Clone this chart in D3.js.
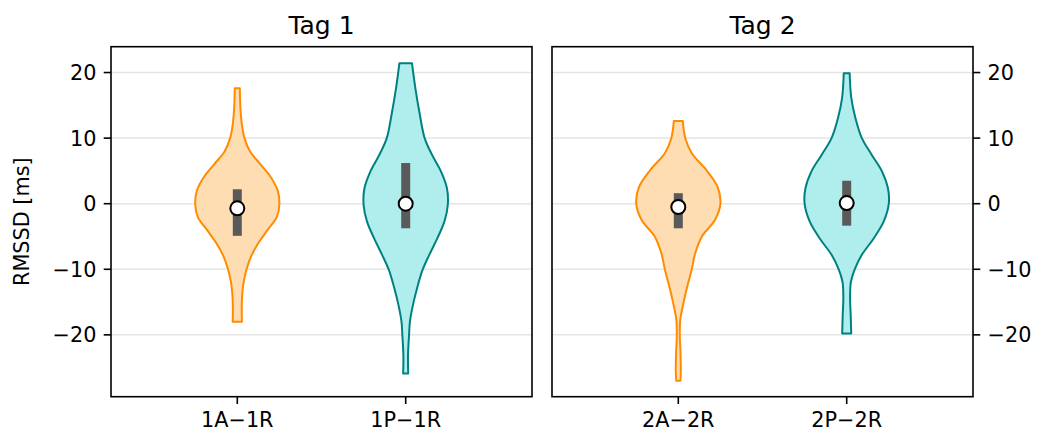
<!DOCTYPE html>
<html><head><meta charset="utf-8">
<script src="https://cdn.jsdelivr.net/npm/d3@7"></script>
<style>body{margin:0;background:#fff}svg{display:block;font-family:"DejaVu Sans",sans-serif}</style>
</head><body><svg id="c" width="1044" height="438"></svg>
<script>
// ---- data ----
const panelTitles = ["Tag 1", "Tag 2"];
const categoriesTag1 = ["1A\u22121R", "1P\u22121R"];
const categoriesTag2 = ["2A\u22122R", "2P\u22122R"];
const yTicks = [-20, -10, 0, 10, 20];
const yLabel = "RMSSD [ms]";
// density profiles: [value, relative width (max = 1)]
const profile1A = [[17.6,0.06],[16,0.065],[14,0.08],[12,0.11],[10,0.17],[8,0.3],[6,0.55],[4,0.8],[2,0.96],[0,1.0],[-2,0.94],[-4,0.72],[-6,0.5],[-8,0.33],[-10,0.22],[-12,0.15],[-14,0.115],[-16,0.105],[-18,0.11]];
const profile1P = [[21.4,0.15],[17.6,0.23],[13.8,0.33],[10,0.45],[7.4,0.63],[4.9,0.84],[2.35,0.98],[-0.2,1.0],[-2.7,0.92],[-5.3,0.75],[-7.8,0.56],[-10.1,0.4],[-12.9,0.27],[-15.5,0.17],[-18,0.1],[-20,0.08],[-23.1,0.055],[-25.9,0.06]];
const profile2A = [[12.6,0.107],[9.9,0.17],[7.7,0.32],[5.1,0.67],[2.6,0.93],[0,1.0],[-2.5,0.87],[-5,0.56],[-7.6,0.4],[-10,0.32],[-12.7,0.21],[-15.2,0.12],[-17.8,0.045],[-20.3,0.036],[-22.3,0.05],[-25.4,0.06],[-27,0.05]];
const profile2P = [[19.9,0.07],[16.1,0.11],[13,0.21],[10,0.36],[7.4,0.6],[4.9,0.84],[2.35,0.98],[0,1.0],[-2.7,0.88],[-5.3,0.64],[-7.8,0.36],[-10,0.19],[-11.9,0.1],[-14.4,0.08],[-17,0.095],[-19.8,0.107]];
const medians1 = [-0.7, 0.0];
const medians2 = [-0.5, 0.1];
const q1Tag1 = [-4.9, -3.75], q3Tag1 = [2.2, 6.2];
const q1Tag2 = [-3.75, -3.35], q3Tag2 = [1.6, 3.5];

const panels = [
  {title: panelTitles[0], cats: categoriesTag1, profiles: [profile1A, profile1P], med: medians1, q1: q1Tag1, q3: q3Tag1, left: 111, right: 532, axisSide: "left"},
  {title: panelTitles[1], cats: categoriesTag2, profiles: [profile2A, profile2P], med: medians2, q1: q1Tag2, q3: q3Tag2, left: 552, right: 973, axisSide: "right"}
];
const colors = [{stroke: "#ff8c00", fill: "#ffddb3"}, {stroke: "#008080", fill: "#b0eeee"}];

const plotTop = 46.7, plotBottom = 396.7;
const svg = d3.select("#c");
const y = d3.scaleLinear().domain([-29.43, 23.94]).range([plotBottom, plotTop]);
const tickLen = 7.3, pad = 7.3, fs = 20.8;

panels.forEach(p => {
  const g = svg.append("g");
  const x = d3.scaleLinear().domain([-0.75, 1.75]).range([p.left, p.right]);
  // grid
  g.selectAll("line.grid").data(yTicks).join("line")
    .attr("x1", p.left).attr("x2", p.right)
    .attr("y1", d => y(d)).attr("y2", d => y(d))
    .attr("stroke", "#e5e5e5").attr("stroke-width", 1.5);
  // violins
  p.profiles.forEach((prof, i) => {
    const half = 0.25;
    const area = d3.area()
      .y(d => y(d[0]))
      .x0(d => x(i - half * d[1]))
      .x1(d => x(i + half * d[1]))
      .curve(d3.curveCatmullRom.alpha(0.5));
    g.append("path").attr("d", area(prof))
      .attr("fill", colors[i].fill).attr("stroke", colors[i].stroke)
      .attr("stroke-width", 2).attr("stroke-linejoin", "round");
    // IQR bar
    g.append("rect")
      .attr("x", x(i) - 4.5).attr("width", 9)
      .attr("y", y(p.q3[i])).attr("height", y(p.q1[i]) - y(p.q3[i]))
      .attr("fill", "#5a5a5a");
    // median
    g.append("circle").attr("cx", x(i)).attr("cy", y(p.med[i])).attr("r", 7)
      .attr("fill", "#fff").attr("stroke", "#000").attr("stroke-width", 2);
  });
  // frame
  g.append("rect").attr("x", p.left).attr("y", plotTop).attr("width", p.right - p.left).attr("height", plotBottom - plotTop)
    .attr("fill", "none").attr("stroke", "#000").attr("stroke-width", 1.6);
  // x ticks
  const xt = g.selectAll("g.xt").data(p.cats).join("g");
  xt.append("line").attr("x1", (d, i) => x(i)).attr("x2", (d, i) => x(i))
    .attr("y1", plotBottom).attr("y2", plotBottom + tickLen).attr("stroke", "#000").attr("stroke-width", 1.6);
  xt.append("text").attr("x", (d, i) => x(i)).attr("y", plotBottom + tickLen + pad + fs * 0.76)
    .attr("text-anchor", "middle").attr("font-size", fs).attr("fill", "#000").text(d => d);
  // y ticks
  const sx = p.axisSide === "left" ? p.left : p.right;
  const dir = p.axisSide === "left" ? -1 : 1;
  const yt = g.selectAll("g.yt").data(yTicks).join("g");
  yt.append("line").attr("x1", sx).attr("x2", sx + dir * tickLen)
    .attr("y1", d => y(d)).attr("y2", d => y(d)).attr("stroke", "#000").attr("stroke-width", 1.6);
  yt.append("text").attr("x", sx + dir * (tickLen + pad)).attr("y", d => y(d))
    .attr("dy", "0.36em").attr("text-anchor", dir < 0 ? "end" : "start")
    .attr("font-size", fs).attr("fill", "#000")
    .text(d => d < 0 ? "\u2212" + Math.abs(d) : String(d));
  // title
  g.append("text").attr("x", (p.left + p.right) / 2).attr("y", plotTop - 12.5)
    .attr("text-anchor", "middle").attr("font-size", 25).attr("fill", "#000").text(p.title);
});
// y label
svg.append("text").attr("transform", `translate(29,${(plotTop + plotBottom) / 2}) rotate(-90)`)
  .attr("text-anchor", "middle").attr("font-size", fs).attr("fill", "#000").text(yLabel);
</script></body></html>
